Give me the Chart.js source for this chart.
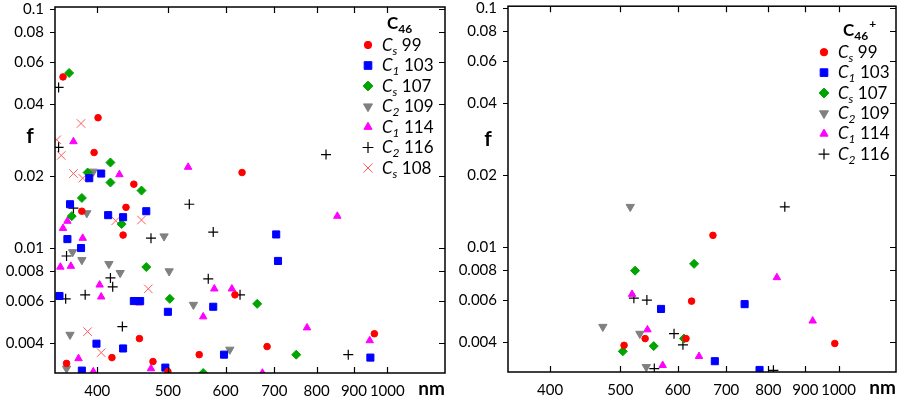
<!DOCTYPE html>
<html>
<head>
<meta charset="utf-8">
<script src="https://cdn.jsdelivr.net/npm/chart.js@4.4.0/dist/chart.umd.min.js"></script>
<style>
  body { margin: 0; background: #fff; }
  .panel { position: absolute; top: 0; width: 452px; height: 404px; }
</style>
</head>
<body>
<div class="panel" style="left:0"><canvas id="neutralChart" width="452" height="404"></canvas></div>
<div class="panel" style="left:452px"><canvas id="cationChart" width="452" height="404"></canvas></div>
<script>
// Axis ticks
const nmTicks = [400, 500, 600, 700, 800, 900, 1000];
const fTicks = [0.004, 0.006, 0.008, 0.01, 0.02, 0.04, 0.06, 0.08, 0.1];

// Legend label parts: C<sub>sym</sub> num
const seriesSub = ['s', '1', 's', '2', '1', '2', 's'];
const seriesNum = ['99', '103', '107', '109', '114', '116', '108'];

// C46 (left panel)
const n_cs99_nm = [359, 401, 396, 449, 632, 381, 438, 434, 618, 457, 419, 552, 477, 363, 500, 960, 684];
const n_cs99_f = [0.052, 0.0351, 0.0251, 0.0185, 0.0207, 0.01426, 0.0148, 0.01133, 0.00637, 0.00418, 0.00348, 0.00358, 0.00335, 0.00329, 0.00304, 0.00438, 0.00387];

const n_c1_103_nm = [390, 405, 367, 414, 434, 467, 364, 380, 355, 449, 458, 577, 500, 399, 434, 597, 381, 496, 704, 708, 948];
const n_c1_103_f = [0.0196, 0.0205, 0.01525, 0.01373, 0.01346, 0.01426, 0.0109, 0.01, 0.0063, 0.006, 0.006, 0.00568, 0.00541, 0.00398, 0.0038, 0.00358, 0.00307, 0.00316, 0.0114, 0.00883, 0.00348];

const n_cs107_nm = [366, 417, 388, 417, 460, 381, 369, 432, 467, 503, 559, 663, 750];
const n_cs107_f = [0.054, 0.0228, 0.0207, 0.0188, 0.0174, 0.0162, 0.0136, 0.0126, 0.00833, 0.00613, 0.003, 0.00584, 0.00358];

const n_c2_109_nm = [395, 387, 494, 370, 381, 415, 430, 502, 542, 367, 608, 363];
const n_c2_109_f = [0.0209, 0.014, 0.0112, 0.00962, 0.00891, 0.00858, 0.00787, 0.008, 0.00579, 0.00434, 0.00376, 0.00313];

const n_c1_114_nm = [371, 429, 533, 364, 359, 382, 356, 368, 403, 405, 579, 612, 457, 559, 377, 395, 474, 854, 776, 946, 674];
const n_c1_114_f = [0.0279, 0.0203, 0.0218, 0.01296, 0.0121, 0.011, 0.00833, 0.0084, 0.00701, 0.00625, 0.00675, 0.00675, 0.0059, 0.00516, 0.00345, 0.00304, 0.00313, 0.0136, 0.00464, 0.0041, 0.003];

const n_c2_116_nm = [354, 354, 824, 535, 371, 474, 577, 363, 417, 420, 568, 628, 362, 385, 433, 884];
const n_c2_116_f = [0.047, 0.0264, 0.0246, 0.01525, 0.01468, 0.011, 0.01166, 0.00926, 0.0075, 0.00688, 0.00743, 0.00637, 0.00613, 0.00637, 0.00469, 0.00358];

const n_cs108_nm = [380, 352, 357, 371, 382, 424, 460, 470, 388, 405];
const n_cs108_f = [0.0332, 0.0284, 0.0244, 0.0205, 0.0196, 0.013, 0.0131, 0.00675, 0.00447, 0.00365];

// C46+ (right panel)
const c_cs99_nm = [506, 541, 616, 627, 671, 988];
const c_cs99_f = [0.00388, 0.00414, 0.00414, 0.00594, 0.0112, 0.00395];

const c_c1_103_nm = [569, 742, 675, 778];
const c_c1_103_f = [0.00551, 0.00577, 0.00333, 0.00306];

const c_cs107_nm = [504, 524, 556, 612, 632];
const c_cs107_f = [0.00366, 0.00797, 0.00385, 0.00414, 0.00851];

const c_c2_109_nm = [516, 473, 532, 543];
const c_c2_109_f = [0.01475, 0.00464, 0.00434, 0.00315];

const c_c1_114_nm = [519, 545, 572, 642, 822, 921];
const c_c1_114_f = [0.00635, 0.00451, 0.0032, 0.00349, 0.00746, 0.00491];

const c_c2_116_nm = [522, 544, 593, 610, 557, 813, 843];
const c_c2_116_f = [0.00611, 0.006, 0.00434, 0.0039, 0.0031, 0.00305, 0.01475];

const FONT = 'Lato, "Open Sans", sans-serif';

// Marker styles per series (same order as seriesSub / seriesNum)
const markerStyles = [
    { pointStyle: 'circle', radius: 3.3, color: '#ff0000', borderWidth: 1, rotation: 0 },
    { pointStyle: 'rect', radius: 5, color: '#0000ff', borderWidth: 1, rotation: 0 },
    { pointStyle: 'rectRot', radius: 4.5, color: '#00a400', borderWidth: 1, rotation: 0 },
    { pointStyle: 'triangle', radius: 4.8, color: '#808080', borderWidth: 1, rotation: 180 },
    { pointStyle: 'triangle', radius: 4.3, color: '#ff00ff', borderWidth: 1, rotation: 0 },
    { pointStyle: 'cross', radius: 5, color: '#000000', borderWidth: 1.2, rotation: 0 },
    { pointStyle: 'crossRot', radius: 6, color: '#ff5a5a', borderWidth: 1, rotation: 0 }
];

function toPoints(xs, ys) {
    return xs.map((x, i) => ({ x: x, y: ys[i] }));
}

function makeDataset(i, xs, ys) {
    const s = markerStyles[i];
    return {
        label: 'C' + seriesSub[i] + ' ' + seriesNum[i],
        data: toPoints(xs, ys),
        pointStyle: s.pointStyle,
        pointRadius: s.radius,
        pointRotation: s.rotation,
        pointBackgroundColor: s.color,
        pointBorderColor: s.color,
        pointBorderWidth: s.borderWidth,
        clip: 0
    };
}

// Frame, inner ticks, axis titles and the legend
const decorPlugin = {
    id: 'decor',
    afterDraw(chart, args, opts) {
        const { ctx, chartArea: a, scales } = chart;
        ctx.save();
        ctx.strokeStyle = '#000';
        ctx.lineWidth = 1.5;
        ctx.strokeRect(a.left, a.top, a.right - a.left, a.bottom - a.top);

        ctx.lineWidth = 1.2;
        ctx.beginPath();
        fTicks.forEach(v => {
            const y = Math.round(scales.y.getPixelForValue(v)) + 0.5;
            ctx.moveTo(a.left - 5, y); ctx.lineTo(a.left, y);
            ctx.moveTo(a.right - 6, y); ctx.lineTo(a.right, y);
        });
        nmTicks.forEach(v => {
            const x = Math.round(scales.x.getPixelForValue(v)) + 0.5;
            ctx.moveTo(x, a.top); ctx.lineTo(x, a.top + 6);
            ctx.moveTo(x, a.bottom - 6); ctx.lineTo(x, a.bottom);
        });
        ctx.stroke();

        // axis titles
        ctx.fillStyle = '#000';
        ctx.font = 'bold 21px ' + FONT;
        ctx.textAlign = 'center';
        ctx.textBaseline = 'middle';
        ctx.fillText('f', a.left + opts.fX, a.top + opts.fY);
        ctx.font = 'bold 19px ' + FONT;
        ctx.textAlign = 'right';
        ctx.fillText('nm', a.right, a.bottom + 16);

        // legend title
        const lg = opts.legend;
        ctx.textAlign = 'left';
        ctx.textBaseline = 'alphabetic';
        let tx = a.right + lg.titleX;
        const tb = a.top + lg.titleY;
        ctx.font = 'bold 17px ' + FONT;
        ctx.fillText('C', tx, tb);
        tx += ctx.measureText('C').width;
        ctx.font = 'bold 12px ' + FONT;
        ctx.fillText('46', tx, tb + 4);
        tx += ctx.measureText('46').width;
        if (lg.charge) ctx.fillText(lg.charge, tx + 1, tb - 8);

        // legend entries
        const mx = a.right + lg.markerX;
        chart.data.datasets.forEach((ds, i) => {
            const cy = a.top + lg.top + i * lg.rowH;
            const s = markerStyles[i];
            ctx.fillStyle = s.color;
            ctx.strokeStyle = s.color;
            ctx.lineWidth = s.borderWidth;
            Chart.helpers.drawPoint(ctx, {
                pointStyle: s.pointStyle, rotation: s.rotation,
                radius: s.radius + 0.4, borderWidth: s.borderWidth
            }, mx, cy);
            ctx.fillStyle = '#000';
            let x = mx + 14;
            const b = cy + 5.5;
            ctx.font = 'italic 17px ' + FONT;
            ctx.fillText('C', x, b);
            x += ctx.measureText('C').width;
            ctx.font = 'italic 12px ' + FONT;
            ctx.fillText(seriesSub[i], x, b + 4);
            x += ctx.measureText(seriesSub[i]).width;
            ctx.font = '17px ' + FONT;
            ctx.fillText(' ' + seriesNum[i], x, b);
        });
        ctx.restore();
    }
};

function makeChart(id, datasets, pad, yWidth, xHeight, decor) {
    const ctx = document.getElementById(id).getContext('2d');
    return new Chart(ctx, {
        type: 'scatter',
        data: { datasets: datasets },
        plugins: [decorPlugin],
        options: {
            responsive: false,
            animation: false,
            layout: { padding: pad },
            scales: {
                x: {
                    type: 'logarithmic',
                    min: 350,
                    max: 1200,
                    afterBuildTicks: scale => { scale.ticks = nmTicks.map(v => ({ value: v })); },
                    afterFit: scale => {
                        scale.height = xHeight;
                        scale.paddingLeft = 0;
                        scale.paddingRight = 0;
                    },
                    grid: { display: false, drawTicks: false },
                    border: { display: false },
                    ticks: {
                        autoSkip: false,
                        maxRotation: 0,
                        padding: 9,
                        color: '#000',
                        font: { family: FONT, size: 15 },
                        callback: v => String(v)
                    }
                },
                y: {
                    type: 'logarithmic',
                    min: 0.003,
                    max: 0.102,
                    afterBuildTicks: scale => { scale.ticks = fTicks.map(v => ({ value: v })); },
                    afterFit: scale => {
                        scale.width = yWidth;
                        scale.paddingTop = 0;
                        scale.paddingBottom = 0;
                    },
                    grid: { display: false, drawTicks: false },
                    border: { display: false },
                    ticks: {
                        padding: 11,
                        color: '#000',
                        font: { family: FONT, size: 15 },
                        callback: v => String(v)
                    }
                }
            },
            plugins: {
                legend: { display: false },
                tooltip: { enabled: false },
                decor: decor
            }
        }
    });
}

const neutralSets = [
    makeDataset(0, n_cs99_nm, n_cs99_f),
    makeDataset(1, n_c1_103_nm, n_c1_103_f),
    makeDataset(2, n_cs107_nm, n_cs107_f),
    makeDataset(3, n_c2_109_nm, n_c2_109_f),
    makeDataset(4, n_c1_114_nm, n_c1_114_f),
    makeDataset(5, n_c2_116_nm, n_c2_116_f),
    makeDataset(6, n_cs108_nm, n_cs108_f)
];

const cationSets = [
    makeDataset(0, c_cs99_nm, c_cs99_f),
    makeDataset(1, c_c1_103_nm, c_c1_103_f),
    makeDataset(2, c_cs107_nm, c_cs107_f),
    makeDataset(3, c_c2_109_nm, c_c2_109_f),
    makeDataset(4, c_c1_114_nm, c_c1_114_f),
    makeDataset(5, c_c2_116_nm, c_c2_116_f)
];

makeChart('neutralChart', neutralSets, { top: 5, right: 7, left: 0, bottom: 0 }, 55, 31, {
    fX: -25, fY: 129,
    legend: { titleX: -58, titleY: 22, charge: '', markerX: -77, top: 38, rowH: 20.5 }
});

makeChart('cationChart', cationSets, { top: 4, right: 8, left: 0, bottom: 0 }, 56, 32, {
    fX: -20, fY: 133,
    legend: { titleX: -53, titleY: 30, charge: '+', markerX: -72, top: 46, rowH: 20.4 }
});
</script>
</body>
</html>
